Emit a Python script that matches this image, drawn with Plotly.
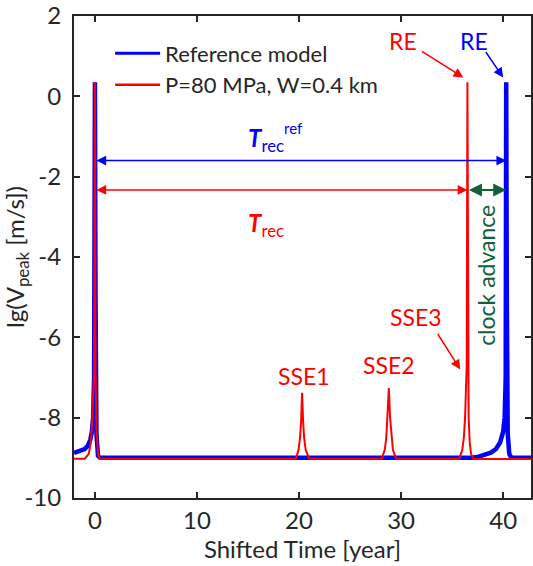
import plotly.graph_objects as go

# ---- data ----
ref_t = [-2.05, -1.5, -1.0, -0.7, -0.45, -0.3, -0.18, -0.08, 0.0, 0.06, 0.15, 0.3, 0.5,
         20.0, 30.0, 37.0, 37.6, 38.2, 38.8, 39.3, 39.7, 40.0, 40.15, 40.25, 40.3,
         40.36, 40.45, 40.6, 40.8, 43.0]
ref_v = [-8.88, -8.84, -8.78, -8.7, -8.55, -8.35, -8.0, -7.0, 0.35, -5.0, -8.4, -8.95, -9.0,
         -9.0, -9.0, -9.0, -8.97, -8.93, -8.87, -8.78, -8.62, -8.35, -8.0, -7.0, 0.35,
         -5.0, -8.4, -8.9, -9.0, -9.0]

red_t = [-2.05, -1.0, -0.6, -0.4, -0.25, -0.15, -0.08, 0.0, 0.06, 0.15, 0.3, 0.45,
         19.7, 19.95, 20.1, 20.2, 20.3, 20.4, 20.5, 20.65, 21.0,
         28.1, 28.4, 28.55, 28.68, 28.8, 28.92, 29.05, 29.2, 29.5,
         35.7, 36.0, 36.15, 36.27, 36.36, 36.43, 36.5, 36.56, 36.62, 36.72, 36.85, 37.1, 43.0]
red_v = [-9.02, -9.02, -8.9, -8.6, -8.0, -7.3, -6.8, 0.35, -6.8, -8.3, -8.9, -9.02,
         -9.02, -8.8, -8.5, -8.1, -7.38, -8.1, -8.5, -8.8, -9.02,
         -9.02, -8.8, -8.5, -8.0, -7.26, -8.0, -8.5, -8.8, -9.02,
         -9.02, -8.8, -8.5, -8.0, -7.2, -6.7, 0.35, -6.8, -8.0, -8.6, -8.9, -9.03, -9.03]

x_ticks = [0, 10, 20, 30, 40]
x_labels = ["0", "10", "20", "30", "40"]
y_ticks = [-10, -8, -6, -4, -2, 0, 2]
y_labels = ["-10", "-8", "-6", "-4", "-2", "0", "2"]

t_eq0 = 0.0
t_ref_re = 40.3
t_red_re = 36.5

BLUE = "#0000ff"
RED = "#ff0000"
GREEN = "#14603c"
FONT = "Lato"

fig = go.Figure()
fig.add_trace(go.Scatter(x=ref_t, y=ref_v, mode="lines", name="Reference model",
                         line=dict(color=BLUE, width=4.5), showlegend=False))
fig.add_trace(go.Scatter(x=red_t, y=red_v, mode="lines", name="P=80 MPa, W=0.4 km",
                         line=dict(color=RED, width=2), showlegend=False))
# legend entries (thinner sample lines, as in the reference legend)
fig.add_trace(go.Scatter(x=[None], y=[None], mode="lines", name="Reference model",
                         line=dict(color=BLUE, width=3)))
fig.add_trace(go.Scatter(x=[None], y=[None], mode="lines", name="P=80 MPa, W=0.4 km",
                         line=dict(color=RED, width=2.5)))

ann = []
def arrow(x0, y0, x1, y1, color, both=False, width=1.5):
    ann.append(dict(x=x1, y=y1, ax=x0, ay=y0, xref="x", yref="y", axref="x", ayref="y",
                    text="", showarrow=True, arrowhead=2, arrowsize=1.3, arrowwidth=width,
                    arrowcolor=color, arrowside="end+start" if both else "end",
                    startarrowhead=2, startarrowsize=1.3, standoff=0, startstandoff=0))

def label(x, y, text, color, size=23, angle=0):
    ann.append(dict(x=x, y=y, xref="x", yref="y", text=text, showarrow=False,
                    font=dict(family=FONT, size=size, color=color), textangle=angle))

arrow(t_eq0, -1.6, t_ref_re, -1.6, BLUE, both=True)
arrow(t_eq0, -2.33, t_red_re, -2.33, RED, both=True)
arrow(t_red_re, -2.33, t_ref_re, -2.33, GREEN, both=True, width=2)
arrow(31.9, 1.14, 36.1, 0.47, RED)
arrow(38.2, 1.14, 40.0, 0.47, BLUE)
arrow(33.5, -5.88, 35.8, -6.8, RED)

label(30.2, 1.39, "RE", RED)
label(37.1, 1.39, "RE", BLUE)
label(20.5, -6.97, "SSE1", RED)
label(28.8, -6.7, "SSE2", RED)
label(31.5, -5.5, "SSE3", RED)
label(38.3, -4.45, "clock advance", GREEN, angle=-90)
label(16.8, -1.07, "<b><i>T</i></b><sub>rec</sub>", BLUE, size=24)
label(19.5, -0.8, "ref", BLUE, size=15)
label(16.8, -3.2, "<b><i>T</i></b><sub>rec</sub>", RED, size=24)

fig.update_layout(
    width=533, height=566,
    margin=dict(l=74, r=0, t=14, b=68),
    paper_bgcolor="white", plot_bgcolor="white",
    font=dict(family=FONT, size=24, color="#262626"),
    showlegend=True,
    legend=dict(x=0.079, y=0.966, xanchor="left", yanchor="top", bgcolor="rgba(0,0,0,0)",
                font=dict(family=FONT, size=22, color="#262626"), itemwidth=45,
                tracegroupgap=0),
    annotations=ann,
)
fig.update_xaxes(range=[-2.05, 42.73], tickvals=x_ticks, ticktext=x_labels,
                 ticks="inside", ticklen=6, ticklabeloverflow="allow",
                 tickwidth=1.5, tickcolor="#262626", showline=True, linecolor="#262626",
                 linewidth=2, mirror="ticks", showgrid=False, zeroline=False,
                 title=dict(text="Shifted Time [year]", standoff=6,
                            font=dict(family=FONT, size=24)))
fig.update_yaxes(range=[-10, 2], tickvals=y_ticks, ticktext=y_labels,
                 ticks="inside", ticklen=6, ticklabelstandoff=6, ticklabeloverflow="allow",
                 tickwidth=1.5, tickcolor="#262626", showline=True, linecolor="#262626",
                 linewidth=2, mirror="ticks", showgrid=False, zeroline=False,
                 title=dict(text="lg(V<sub>peak</sub> [m/s])", standoff=2,
                            font=dict(family=FONT, size=24)))

fig.write_html("out.html")
